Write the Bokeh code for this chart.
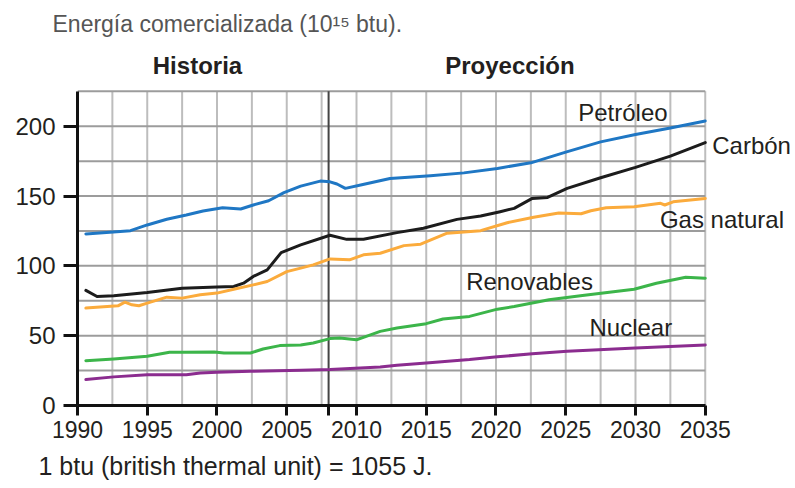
from bokeh.plotting import figure
from bokeh.models import Range1d, FixedTicker, Label, Title
from bokeh.embed import file_html
from bokeh.resources import INLINE

# ---- data (10^15 btu) ----
petroleo_x = [1990.6, 1993.8, 1995.0, 1996.4, 1997.8, 1999.0, 2000.4, 2001.7, 2002.6, 2003.7, 2004.8, 2006.0,
              2007.4, 2008.1, 2008.6, 2009.2, 2010.3, 2012.4, 2015.3, 2017.7, 2020.1, 2022.5, 2025.0, 2027.5,
              2030.0, 2032.5, 2035.0]
petroleo_y = [122.9, 125.2, 129.3, 133.4, 136.4, 139.3, 141.6, 140.7, 143.6, 146.6, 152.4, 157.1,
              160.7, 160.2, 158.6, 155.5, 157.9, 162.6, 164.5, 166.6, 169.8, 173.8, 181.5, 188.8,
              194.1, 198.8, 203.8]

carbon_x = [1990.6, 1991.4, 1992.6, 1995.0, 1997.5, 2000.0, 2001.2, 2001.9, 2002.6, 2003.6, 2004.6, 2006.0,
            2008.1, 2009.3, 2010.5, 2012.9, 2014.8, 2017.2, 2018.9, 2020.3, 2021.3, 2022.6, 2023.7, 2025.1,
            2027.5, 2030.0, 2032.5, 2035.0]
carbon_y = [82.4, 78.1, 78.6, 80.9, 84.0, 84.8, 85.2, 87.6, 92.4, 97.1, 109.5, 115.0,
            121.9, 119.0, 119.0, 123.8, 126.9, 133.3, 135.7, 138.8, 141.2, 148.3, 149.0, 155.5,
            163.1, 170.5, 178.6, 188.3]

gas_x = [1990.6, 1992.9, 1993.4, 1993.9, 1994.4, 1995.0, 1996.4, 1997.5, 1998.8, 2000.0, 2001.2, 2002.6,
         2003.6, 2005.0, 2006.0, 2006.9, 2008.1, 2009.5, 2010.5, 2011.7, 2013.4, 2014.6, 2016.5, 2018.9,
         2020.8, 2022.7, 2024.5, 2026.1, 2026.8, 2027.9, 2029.9, 2031.8, 2032.1, 2032.7, 2035.0]
gas_y = [69.8, 71.4, 74.0, 72.1, 71.4, 73.3, 77.6, 76.9, 79.3, 80.5, 83.3, 86.4,
         88.8, 95.9, 98.4, 100.7, 105.0, 104.3, 107.9, 109.0, 114.5, 115.5, 123.4, 125.2,
         130.9, 134.8, 137.8, 137.3, 139.5, 141.6, 142.4, 144.8, 143.6, 145.9, 148.3]

renov_x = [1990.6, 1992.6, 1995.0, 1996.6, 1997.5, 1999.8, 2000.5, 2002.4, 2003.3, 2004.5, 2006.0, 2006.9,
           2008.1, 2008.8, 2010.0, 2010.7, 2011.7, 2012.9, 2015.0, 2016.2, 2018.1, 2020.1, 2021.3, 2023.8,
           2026.2, 2029.9, 2031.5, 2033.6, 2035.0]
renov_y = [32.1, 33.3, 35.2, 38.1, 38.1, 38.3, 37.6, 37.6, 40.5, 42.9, 43.4, 44.8,
           47.9, 48.3, 47.1, 49.5, 53.1, 55.5, 58.6, 61.9, 63.8, 69.0, 70.9, 75.7,
           78.7, 83.3, 87.6, 91.9, 91.2]

nuclear_x = [1990.6, 1992.6, 1995.0, 1997.8, 1998.8, 2000.0, 2002.4, 2006.0, 2008.1, 2011.7, 2012.9, 2015.0,
             2018.1, 2020.1, 2022.6, 2025.1, 2030.0, 2035.0]
nuclear_y = [18.6, 20.5, 22.1, 22.1, 23.3, 23.8, 24.5, 25.2, 25.7, 27.6, 28.8, 30.5,
             32.9, 34.9, 37.0, 38.8, 41.2, 43.3]

x_ticks = [1990, 1995, 2000, 2005, 2010, 2015, 2020, 2025, 2030, 2035]
y_ticks = [0, 50, 100, 150, 200]
x_grid = [1990 + 2.5 * i for i in range(19)]
y_grid = [0, 25, 50, 75, 100, 125, 150, 175, 200, 225]
split_year = 2008

FONT = "Liberation Sans"
TXT = "#231f20"

p = figure(width=795, height=488, x_range=Range1d(1990, 2041.47), y_range=Range1d(0, 261.4),
           output_backend="svg", toolbar_location=None,
           min_border_left=77, min_border_right=0, min_border_top=40, min_border_bottom=82)
p.outline_line_color = None
p.background_fill_color = "white"
p.border_fill_color = "white"

# title (above) and footnote (below)
p.add_layout(Title(text="Energía comercializada (10¹⁵ btu).", align="left", offset=-25,
                   text_font=FONT, text_font_size="23px", text_font_style="normal",
                   text_color="#555555", standoff=8), "above")
p.add_layout(Title(text="1 btu (british thermal unit) = 1055 J.", align="left", offset=-39,
                   text_font=FONT, text_font_size="25px", text_font_style="normal",
                   text_color=TXT, standoff=18), "below")

# grid lines drawn as segments limited to the data area
p.xgrid.visible = False
p.ygrid.visible = False
p.segment(x0=x_grid, y0=[y_grid[0]] * len(x_grid), x1=x_grid, y1=[y_grid[-1]] * len(x_grid),
          line_color="#bdbdbd", line_width=2)
p.segment(x0=[x_grid[0]] * len(y_grid), y0=y_grid, x1=[x_grid[-1]] * len(y_grid), y1=y_grid,
          line_color="#9c9c9c", line_width=2)

# axes
p.xaxis.ticker = FixedTicker(ticks=x_ticks + [split_year])
p.xaxis.major_label_overrides = {split_year: ""}
p.yaxis.ticker = FixedTicker(ticks=y_ticks)
p.xaxis.bounds = (x_grid[0], x_grid[-1])
p.yaxis.bounds = (y_grid[0], y_grid[-1])
for ax in (p.xaxis, p.yaxis):
    ax.axis_line_color = "#111111"
    ax.axis_line_width = 3
    ax.major_tick_line_color = "#111111"
    ax.major_tick_line_width = 3
    ax.major_tick_in = 0
    ax.minor_tick_line_color = None
    ax.major_label_text_font = FONT
    ax.major_label_text_color = TXT
p.xaxis.major_tick_out = 10
p.yaxis.major_tick_out = 14
p.xaxis.major_label_text_font_size = "23px"
p.yaxis.major_label_text_font_size = "24px"
p.xaxis.major_label_standoff = 5
p.yaxis.major_label_standoff = 8

# history / projection divider
p.segment(x0=[split_year], y0=[y_grid[0]], x1=[split_year], y1=[y_grid[-1]],
          line_color="#444444", line_width=2)

# series
series = [
    (petroleo_x, petroleo_y, "#1f77c4"),
    (carbon_x, carbon_y, "#1c1c1c"),
    (gas_x, gas_y, "#fbab3c"),
    (renov_x, renov_y, "#3cb54a"),
    (nuclear_x, nuclear_y, "#8b2c8f"),
]
for xs, ys, c in series:
    p.line(xs, ys, line_color=c, line_width=3, line_join="round", line_cap="round")

def lab(x, y, text, size="24px", align="left", color=TXT, style="normal", baseline="middle"):
    p.add_layout(Label(x=x, y=y, text=text, text_font=FONT, text_font_size=size, text_align=align,
                       text_baseline=baseline, text_color=color, text_font_style=style))

lab(2029.1, 210, "Petróleo", align="center")
lab(2035.5, 186.4, "Carbón")
lab(2031.75, 132.9, "Gas natural")
lab(2017.86, 88.6, "Renovables")
lab(2026.7, 55.7, "Nuclear")

lab(1998.6, 243.6, "Historia", align="center", style="bold")
lab(2021.0, 243.6, "Proyección", align="center", style="bold")

open("out.html", "w").write(file_html(p, INLINE))
